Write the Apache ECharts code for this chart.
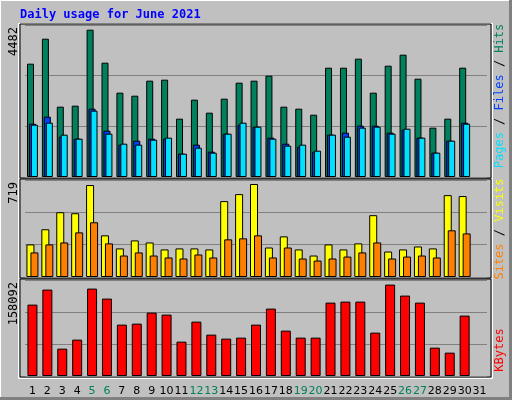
<!DOCTYPE html>
<html><head><meta charset="utf-8">
<script src="https://cdn.jsdelivr.net/npm/echarts@6/dist/echarts.min.js"></script>
<style>html,body{margin:0;padding:0;background:#c0c0c0}#c{width:512px;height:400px}</style>
</head><body><div id="c"></div>
<script>
const days = ['1','2','3','4','5','6','7','8','9','10','11','12','13','14','15','16','17','18','19','20','21','22','23','24','25','26','27','28','29','30','31'];
const weekend = ['5','6','12','13','19','20','26','27'];
const hits = [3448,4208,2140,2170,4482,3478,2566,2474,2931,2961,1775,2353,1957,2383,2870,2931,3083,2140,2079,1896,3326,3326,3600,2566,3387,3722,2991,1501,1775,3326,null];
const files = [1622,1835,1227,1166,2079,1409,984,1105,1166,1166,710,984,771,1318,1592,1531,1197,1014,923,771,1288,1349,1562,1562,1349,1440,1197,740,1105,1653,null];
const pages = [1592,1653,1288,1166,2018,1318,1014,984,1136,1197,710,892,740,1318,1653,1531,1166,953,984,801,1288,1227,1501,1531,1318,1470,1197,740,1105,1622,null];
const visits = [252,369,501,493,711,322,221,283,267,213,221,221,213,587,641,719,228,314,213,166,252,213,260,478,197,213,236,221,633,626,null];
const sites = [190,252,267,345,423,260,166,190,166,151,143,174,151,291,299,322,151,228,143,127,143,158,190,267,143,158,166,151,361,337,null];
const kbytes = [123478,149443,47314,62893,151174,133864,88858,90589,109630,106168,59431,94051,71548,64624,66355,88858,116554,78472,66355,66355,126940,128671,128671,75010,158092,139057,126940,49045,40390,104437,null];
const maxLabels = ['4482','719','158092'];

const chart = echarts.init(document.getElementById('c'), null, {renderer:'canvas'});
const grids = [{top:25,h:152},{top:180,h:97},{top:280,h:96}];
const maxes = [4625,750,166050];
const mono = 'DejaVu Sans Mono';
function xAx(i){
  const last = i===2;
  return {gridIndex:i,type:'category',data:days,boundaryGap:true,
    axisLine:{show:false},axisTick:{show:false},
    axisLabel:{show:last,interval:0,fontFamily:'DejaVu Sans',fontSize:11,margin:10,color:'#000',
      formatter:v=>weekend.includes(v)?'{w|'+v+'}':v,rich:{w:{color:'#00805c',fontFamily:'DejaVu Sans',fontSize:11}}}};
}
function yAx(i){
  return {gridIndex:i,type:'value',min:0,max:maxes[i],interval:maxes[i]/3,
    axisLine:{show:false},axisTick:{show:false},axisLabel:{show:false},
    splitLine:{show:true,lineStyle:{color:'#808080',width:1}}};
}
const bs = {borderColor:'#000',borderWidth:1};
function bar(name,data,i,color,w,gap){
  return {name,type:'bar',xAxisIndex:i,yAxisIndex:i,data,barWidth:w,barGap:gap,
    itemStyle:Object.assign({color},bs),animation:false};
}
const gfx = [];
grids.forEach(g=>{
  gfx.push({type:'rect',shape:{x:20,y:g.top-1,width:471,height:g.h+2},style:{fill:null,stroke:'#000',lineWidth:1},z:-1});
});
gfx.push({type:'rect',shape:{x:18.5,y:23.5,width:474,height:355},style:{fill:null,stroke:'#fff',lineWidth:1},z:-2});
gfx.push({type:'line',shape:{x1:0.5,y1:0,x2:0.5,y2:400},style:{stroke:'#fff',lineWidth:1}});
gfx.push({type:'line',shape:{x1:0,y1:0.5,x2:512,y2:0.5},style:{stroke:'#fff',lineWidth:1}});
gfx.push({type:'rect',shape:{x:509,y:0,width:3,height:400},style:{fill:'#808080'}});
gfx.push({type:'rect',shape:{x:0,y:397,width:512,height:3},style:{fill:'#808080'}});
gfx.push({type:'text',x:20,y:15,style:{text:'Daily usage for June 2021',fill:'#0000ff',font:'bold 12px '+mono,verticalAlign:'middle'}});
maxLabels.forEach((t,i)=>{
  gfx.push({type:'text',x:14,y:grids[i].top+2,rotation:Math.PI/2,style:{text:t,fill:'#000',font:'12px '+mono,align:'right',verticalAlign:'middle'}});
});
function vlab(y,parts){
  gfx.push({type:'text',x:500,y:y,rotation:Math.PI/2,style:{
    text:parts.map((p,k)=>'{s'+k+'|'+p[0]+'}').join(''),
    rich:Object.fromEntries(parts.map((p,k)=>['s'+k,{fill:p[1],font:'12px '+mono}])),
    align:'center',verticalAlign:'middle'}});
}
vlab(96,[['Pages','#00e0ff'],[' / ','#000'],['Files','#0040ff'],[' / ','#000'],['Hits','#00805c']]);
vlab(229,[['Sites','#ff8000'],[' / ','#000'],['Visits','#ffff00']]);
vlab(350,[['KBytes','#ff0000']]);

chart.setOption({
  backgroundColor:'#c0c0c0',animation:false,
  grid:grids.map(g=>({left:25,width:462,top:g.top,height:g.h})),
  xAxis:[xAx(0),xAx(1),xAx(2)],
  yAxis:[yAx(0),yAx(1),yAx(2)],
  series:[
    bar('Hits',hits,0,'#00805c',7,'-72%'),
    bar('Files',files,0,'#0040ff',7,'-72%'),
    bar('Pages',pages,0,'#00e0ff',7,'-72%'),
    bar('Visits',visits,1,'#ffff00',8,'-50%'),
    bar('Sites',sites,1,'#ff8000',8,'-50%'),
    bar('KBytes',kbytes,2,'#ff0000',10,'0%')
  ],
  graphic:gfx
});
</script></body></html>
